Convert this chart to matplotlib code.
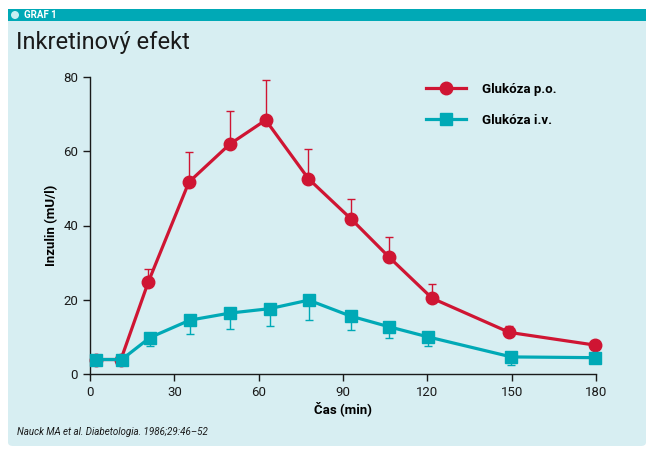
import matplotlib.pyplot as plt
from matplotlib.patches import FancyBboxPatch, Rectangle, Ellipse

# data
t_po = [2, 11, 20.7, 35.2, 49.7, 62.5, 77.7, 92.9, 106.5, 121.7, 149.2, 179.5]
ins_po = [3.9, 3.9, 24.7, 51.7, 61.9, 68.4, 52.6, 41.75, 31.4, 20.4, 11.2, 7.8]
err_po = [0, 0, 3.7, 8.0, 9.0, 10.9, 8.1, 5.35, 5.4, 3.8, 1.8, 0]

t_iv = [2, 11.3, 21.3, 35.5, 49.7, 63.9, 77.8, 92.7, 106.5, 120.2, 149.9, 179.5]
ins_iv = [3.9, 3.9, 9.8, 14.5, 16.4, 17.6, 19.9, 15.6, 12.7, 10.0, 4.6, 4.4]
err_iv = [0, 0, 2.3, 3.7, 4.3, 4.7, 5.4, 3.8, 3.1, 2.5, 2.1, 0]

labels = ['Glukóza p.o.', 'Glukóza i.v.']
xticks = [0, 30, 60, 90, 120, 150, 180]
yticks = [0, 20, 40, 60, 80]

red = '#cf1533'
teal = '#00a9b6'
panel = '#d7eef2'

plt.rcParams['font.family'] = ['Roboto', 'DejaVu Sans']

fig = plt.figure(figsize=(6.52, 4.55), dpi=100)
fig.patch.set_facecolor('white')

# panel + header
W, H = 652., 455.
fig.patches.append(FancyBboxPatch((8 / W, 9 / H), 638 / W, 437 / H,
                                  boxstyle='round,pad=0,rounding_size=0.008',
                                  transform=fig.transFigure, fc=panel, ec='none', zorder=0))
fig.patches.append(Rectangle((8 / W, (H - 21) / H), 638 / W, 12 / H,
                             transform=fig.transFigure, fc=teal, ec='none', zorder=1))
fig.patches.append(Ellipse((15 / W, (H - 15) / H), 8 / W, 8 / H, transform=fig.transFigure,
                           fc='#c9eef2', ec='none', zorder=2))
fig.text(24 / W, (H - 15.5) / H, 'GRAF 1', color='white', fontsize=7, fontweight='bold',
         va='center', ha='left')
fig.text(16 / W, (H - 43) / H, 'Inkretinový efekt', fontsize=17, va='center', ha='left',
         color='#1a1a1a')
fig.text(17 / W, (H - 432) / H, 'Nauck MA et al. Diabetologia. 1986;29:46–52', fontsize=7,
         style='italic', va='center', ha='left', color='#1a1a1a')

ax = fig.add_axes([90 / W, (H - 374) / H, 506 / W, 297 / H])
ax.set_zorder(5)
ax.set_facecolor('none')

ax.errorbar(t_po, ins_po, yerr=[[0] * len(err_po), err_po], fmt='none', ecolor=red,
            elinewidth=1, capsize=3, capthick=1, zorder=2)
ax.plot(t_po, ins_po, color=red, lw=2.3, marker='o', ms=9, label=labels[0],
        zorder=3, clip_on=False)
ax.errorbar(t_iv, ins_iv, yerr=[err_iv, [0] * len(err_iv)], fmt='none', ecolor=teal,
            elinewidth=1, capsize=3, capthick=1, zorder=4)
ax.plot(t_iv, ins_iv, color=teal, lw=2.3, marker='s', ms=9, label=labels[1],
        zorder=5, clip_on=False)

ax.set_xlim(0, 180)
ax.set_ylim(0, 80)
ax.set_xticks(xticks)
ax.set_yticks(yticks)
for s in ['top', 'right']:
    ax.spines[s].set_visible(False)
for s in ['left', 'bottom']:
    ax.spines[s].set_color('#1a1a1a')
    ax.spines[s].set_linewidth(1)
ax.tick_params(direction='out', length=5, width=1, labelsize=9.5, colors='#1a1a1a')
ax.set_xlabel('Čas (min)', fontsize=9.5, fontweight='bold', labelpad=2)
ax.set_ylabel('Inzulin (mU/l)', fontsize=9.5, fontweight='bold', labelpad=4)

ax.legend(loc='upper left', bbox_to_anchor=(0.641, 1.02), frameon=False,
          handlelength=3.0, handletextpad=1.2, labelspacing=1.35,
          prop={'weight': 'bold', 'size': 9.5})

fig.savefig('out.png', dpi=100)
